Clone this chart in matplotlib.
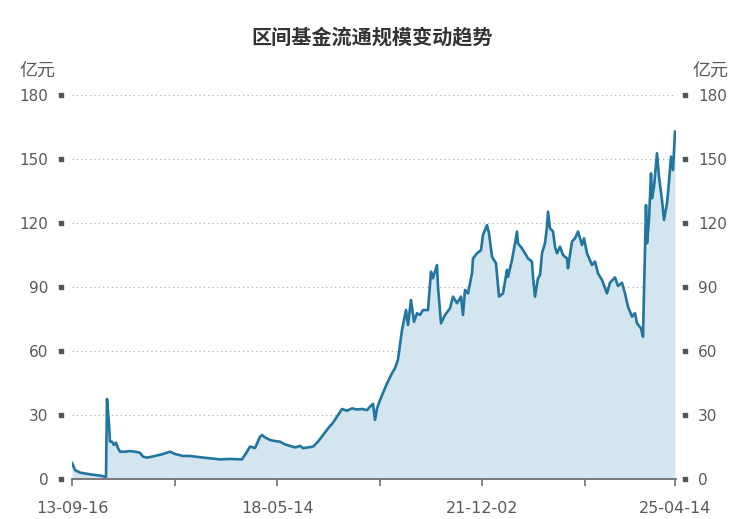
import matplotlib
matplotlib.use('Agg')
import matplotlib.pyplot as plt
import matplotlib.transforms as mtransforms

plt.rcParams['font.family'] = ['Noto Sans CJK SC', 'DejaVu Sans']

# position along the period (category index) and scale in 亿元
pos = [0, 3, 8, 18, 28, 34, 35, 36, 37, 38, 40, 42, 44, 46, 48, 53, 58, 63, 68,
       71, 75, 83, 91, 98, 103, 111, 118, 128, 138, 148, 158, 170, 175, 178,
       183, 188, 190, 193, 198, 203, 208, 213, 218, 223, 228, 231, 236, 241,
       246, 251, 256, 261, 266, 270, 275, 280, 285, 290, 295, 298, 301, 303,
       305, 308, 311, 315, 320, 323, 326, 330, 331, 334, 336, 339, 342, 345,
       348, 351, 356, 359, 361, 365, 366, 369, 373, 378, 381, 385, 389, 391,
       393, 396, 400, 401, 405, 409, 411, 415, 417, 420, 424, 427, 431, 435,
       436, 440, 443, 445, 446, 450, 453, 456, 460, 461, 463, 466, 468, 470,
       473, 475, 476, 478, 481, 483, 485, 488, 491, 495, 496, 500, 503, 506,
       510, 512, 515, 520, 523, 526, 530, 535, 538, 543, 546, 550, 553, 556,
       560, 563, 565, 569, 571, 573, 574, 575, 577, 579, 580, 582, 585, 587,
       590, 592, 595, 597, 599, 601, 603]
scale = [7.5, 4.2, 3.0, 2.2, 1.6, 1.0, 37.5, 32, 26, 17.5, 17.5, 16, 17, 14.5,
         12.8, 12.8, 13.1, 12.8, 12.3, 10.5, 10.0, 10.8, 11.7, 12.8, 11.7,
         10.8, 10.8, 10.2, 9.7, 9.2, 9.4, 9.2, 12.8, 15.2, 14.5, 19.8, 20.6,
         19.5, 18.3, 17.8, 17.5, 16.2, 15.5, 14.8, 15.5, 14.5, 14.8, 15.2,
         17.5, 20.6, 23.7, 26.4, 30, 32.8, 32, 33.1, 32.6, 32.8, 32.3, 33.9,
         35.2, 27.7, 33, 37, 40.3, 44.8, 49.6, 51.9, 56, 69.8, 72.2, 79.2,
         72.2, 83.9, 73.7, 77.7, 76.9, 79.2, 79.2, 97.2, 94.1, 100.3, 90.2,
         73, 76.9, 80, 85.5, 82.4, 85.5, 76.9, 88.6, 87, 96.4, 103.4, 105.8,
         107.3, 114.4, 119, 115.2, 104.2, 101.1, 85.5, 87, 98, 94.8, 102.7,
         110.5, 116, 110.5, 108.1, 105.8, 103.4, 101.9, 94.8, 85.5, 94.1,
         95.6, 105.8, 110.5, 118.3, 125.3, 117.5, 116, 108.9, 105.8, 108.9,
         105, 103.4, 98.8, 111.3, 112.8, 116, 109.7, 112.8, 105.8, 100.3,
         101.9, 96.4, 93.3, 87, 92, 94.5, 90.5, 92, 87, 80.8, 76.1, 77.7, 73,
         70.6, 66.7, 107.3, 128.4, 110.5, 121.4, 143.3, 131.6, 137, 152.7,
         141.7, 130.8, 121.4, 129.2, 139.4, 151.1, 144.8, 162.8]

xtick_pos = [0, 102.6, 205.2, 307.8, 410.4, 513, 603]
xtick_labels = ['13-09-16', '', '18-05-14', '', '21-12-02', '', '25-04-14']
yticks = [0, 30, 60, 90, 120, 150, 180]

line_c = '#21759f'
fill_c = '#d3e5ee'
txt_c = '#595959'

fig = plt.figure(figsize=(7.38, 5.19), dpi=100)
ax = fig.add_axes([72 / 738, 40 / 519, 604 / 738, 384 / 519])

ax.fill_between(pos, scale, 0, color=fill_c, lw=0)
ax.plot(pos, scale, color=line_c, lw=1.9, solid_joinstyle='round')

ax.set_xlim(0, 604)
ax.set_ylim(0, 180)
ax.set_yticks(yticks)
ax.set_xticks(xtick_pos)
ax.set_xticklabels(xtick_labels)

for y in yticks[1:]:
    ax.axhline(y, color='#b5b5b5', lw=0.9, ls=(0, (1, 2.5)), zorder=0)

for s in ['left', 'right', 'top']:
    ax.spines[s].set_visible(False)
ax.spines['bottom'].set_color('#707070')
ax.spines['bottom'].set_linewidth(1.3)
ax.tick_params(axis='x', length=5, width=1.2, color='#707070',
               labelsize=11.5, labelcolor=txt_c, pad=11)
ax.tick_params(axis='y', length=0, labelsize=11, labelcolor=txt_c, pad=17)

ax2 = ax.twinx()
ax2.set_ylim(0, 180)
ax2.set_yticks(yticks)
for s in ['left', 'right', 'top', 'bottom']:
    ax2.spines[s].set_visible(False)
ax2.tick_params(axis='y', length=0, labelsize=11, labelcolor=txt_c, pad=16)

for lab in ax.get_xticklabels() + ax.get_yticklabels() + ax2.get_yticklabels():
    lab.set_family('DejaVu Sans')

# small square tick markers
trans = mtransforms.blended_transform_factory(ax.transAxes, ax.transData)
ax.scatter([-11 / 604] * len(yticks), yticks, marker='s', s=11,
           color='#555555', transform=trans, clip_on=False, zorder=5)
ax.scatter([1 + 9 / 604] * len(yticks), yticks, marker='s', s=11,
           color='#555555', transform=trans, clip_on=False, zorder=5)

fig.text(37 / 738, 1 - 71 / 519, '亿元', ha='center', va='center',
         fontsize=13, color=txt_c)
fig.text(710 / 738, 1 - 71 / 519, '亿元', ha='center', va='center',
         fontsize=13, color=txt_c)
fig.text(372 / 738, 1 - 38 / 519, '区间基金流通规模变动趋势', ha='center',
         va='center', fontsize=14.5, fontweight='bold', color='#333333')

fig.savefig('out.png', dpi=100)
